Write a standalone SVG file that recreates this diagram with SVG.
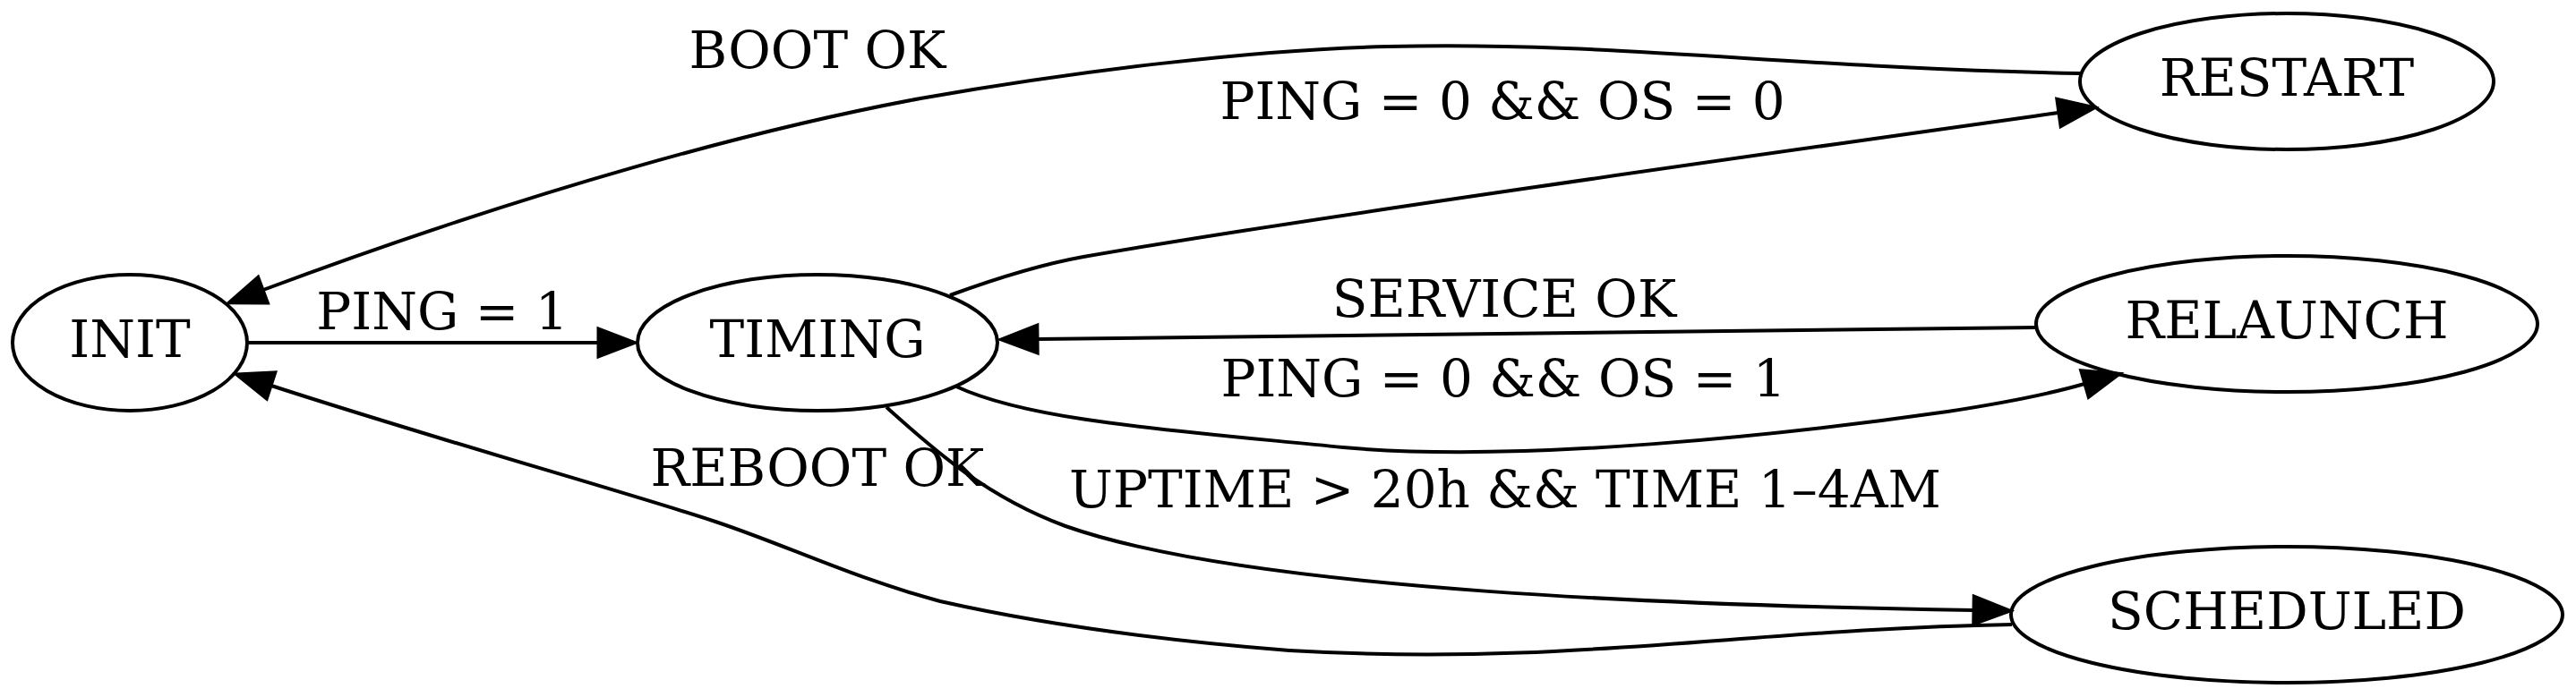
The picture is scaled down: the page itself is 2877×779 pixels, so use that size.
<svg xmlns="http://www.w3.org/2000/svg" width="2877" height="779" viewBox="0 0 2877 779">
<style>
.node ellipse{fill:none;stroke:#000;stroke-width:4}
text{font-family:"DejaVu Serif","Liberation Serif",serif;font-size:58px;fill:#000;text-anchor:middle}
.edge path{fill:none;stroke:#000;stroke-width:4;marker-end:url(#arr)}
</style>
<defs>
<marker id="arr" markerUnits="userSpaceOnUse" markerWidth="50" markerHeight="40" refX="0" refY="16" orient="auto" overflow="visible">
<path d="M0,0 L42,16 L0,32 z" fill="#000" stroke="#000" stroke-width="3"/>
</marker>
</defs>
<rect width="2877" height="779" fill="#fff"/>
<g id="connectors">
<g class="edge" id="e-init-timing"><path d="M277,383 L668,383"/><text x="494" y="368">PING = 1</text></g>
<g class="edge" id="e-restart-init"><path d="M2323,82 C2000,76 1800,46 1550,52 C1400,55 1200,80 1028,110 C850,143 600,210 294,324"/><text x="913" y="76">BOOT OK</text></g>
<g class="edge" id="e-timing-restart"><path d="M1061,330 C1110,312 1160,296 1210,287 C1450,245 2000,168 2299,126"/><text x="1678" y="133">PING = 0 &amp;&amp; OS = 0</text></g>
<g class="edge" id="e-relaunch-timing"><path d="M2274,366 L1159,379"/><text x="1680" y="354">SERVICE OK</text></g>
<g class="edge" id="e-timing-relaunch"><path d="M1068,432 C1150,470 1300,480 1500,500 C1700,518 2000,485 2175,460 C2240,450 2290,440 2328,429"/><text x="1679" y="443">PING = 0 &amp;&amp; OS = 1</text></g>
<g class="edge" id="e-timing-scheduled"><path d="M990,455 C1040,500 1100,555 1190,588 C1400,662 1900,677 2204,682"/><text x="1681" y="567">UPTIME &gt; 20h &amp;&amp; TIME 1–4AM</text></g>
<g class="edge" id="e-scheduled-init"><path d="M2247,698 C1950,703 1750,745 1440,727 C1250,712 1130,690 1050,672 C950,645 880,610 799,583 C700,550 500,495 303,431"/><text x="913" y="543">REBOOT OK</text></g>
</g>
<g class="node" id="INIT"><ellipse cx="145" cy="383" rx="131" ry="76"/><text x="145" y="399">INIT</text></g>
<g class="node" id="TIMING"><ellipse cx="913" cy="383" rx="201" ry="76"/><text x="913" y="399">TIMING</text></g>
<g class="node" id="RESTART"><ellipse cx="2554" cy="91" rx="231" ry="76"/><text x="2554" y="107">RESTART</text></g>
<g class="node" id="RELAUNCH"><ellipse cx="2554" cy="362" rx="280" ry="76"/><text x="2554" y="378">RELAUNCH</text></g>
<g class="node" id="SCHEDULED"><ellipse cx="2554" cy="687" rx="308" ry="76"/><text x="2554" y="703">SCHEDULED</text></g>
</svg>
